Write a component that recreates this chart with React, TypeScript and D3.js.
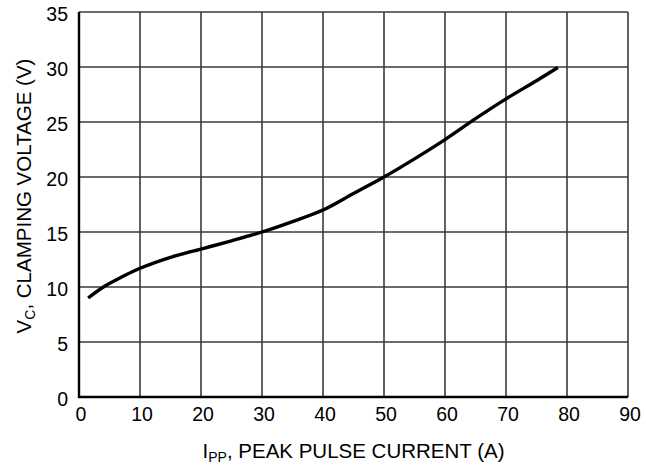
import React, { useRef, useEffect } from "react";
import * as d3 from "d3";

// peak pulse current (A) vs clamping voltage (V)
const current = [1.5, 4, 7, 10, 15, 20, 25, 30, 35, 40, 45, 50, 55, 60, 65, 70, 75, 78.5];
const voltage = [9.0, 10.0, 10.9, 11.7, 12.7, 13.45, 14.2, 15.0, 15.95, 17.0, 18.5, 20.0, 21.65, 23.4, 25.3, 27.1, 28.75, 29.95];

const xTicks = [0, 10, 20, 30, 40, 50, 60, 70, 80, 90];
const yTicks = [0, 5, 10, 15, 20, 25, 30, 35];

const width = 646;
const height = 465;
const margin = { top: 12, right: 18, bottom: 68, left: 79 };
const font = "'Liberation Sans', Arial, sans-serif";

const App: React.FC = () => {
  const svgRef = useRef<SVGSVGElement | null>(null);

  useEffect(() => {
    if (!svgRef.current) return;
    const svg = d3.select(svgRef.current);
    svg.selectAll("*").remove();

    const x = d3.scaleLinear().domain([0, 90]).range([margin.left, width - margin.right]);
    const y = d3.scaleLinear().domain([0, 35]).range([height - margin.bottom, margin.top]);

    const grid = svg.append("g").attr("stroke", "#3a3a3a").attr("stroke-width", 1.6);
    grid
      .selectAll("line.v")
      .data(xTicks.slice(1))
      .join("line")
      .attr("class", "v")
      .attr("x1", (d) => x(d))
      .attr("x2", (d) => x(d))
      .attr("y1", y(0))
      .attr("y2", y(35));
    grid
      .selectAll("line.h")
      .data(yTicks.slice(1))
      .join("line")
      .attr("class", "h")
      .attr("x1", x(0))
      .attr("x2", x(90))
      .attr("y1", (d) => y(d))
      .attr("y2", (d) => y(d));

    // heavier axis lines on left and bottom
    svg
      .append("path")
      .attr("d", `M${x(0)},${y(35)}V${y(0)}H${x(90)}`)
      .attr("fill", "none")
      .attr("stroke", "#000")
      .attr("stroke-width", 2.4);

    const pts = current.map((c, i) => [c, voltage[i]] as [number, number]);
    const line = d3
      .line<[number, number]>()
      .x((d) => x(d[0]))
      .y((d) => y(d[1]))
      .curve(d3.curveCatmullRom.alpha(0.5));

    svg
      .append("path")
      .datum(pts)
      .attr("fill", "none")
      .attr("stroke", "#000")
      .attr("stroke-width", 3.4)
      .attr("d", line);

    svg
      .append("g")
      .selectAll("text")
      .data(yTicks)
      .join("text")
      .attr("x", x(0) - 11)
      .attr("y", (d) => y(d) + 9)
      .attr("text-anchor", "end")
      .attr("font-family", font)
      .attr("font-size", 19.5)
      .text((d) => d);

    svg
      .append("g")
      .selectAll("text")
      .data(xTicks)
      .join("text")
      .attr("x", (d) => x(d) + 2)
      .attr("y", 421)
      .attr("text-anchor", "middle")
      .attr("font-family", font)
      .attr("font-size", 19.5)
      .text((d) => d);

    const xt = svg
      .append("text")
      .attr("x", (x(0) + x(90)) / 2)
      .attr("y", 458)
      .attr("text-anchor", "middle")
      .attr("font-family", font)
      .attr("font-size", 20.5);
    xt.append("tspan").text("I");
    xt.append("tspan").attr("font-size", 14).attr("dy", 4).text("PP");
    xt.append("tspan").attr("dy", -4).text(", PEAK PULSE CURRENT (A)");

    const yt = svg
      .append("text")
      .attr("transform", `translate(31,196) rotate(-90)`)
      .attr("text-anchor", "middle")
      .attr("font-family", font)
      .attr("font-size", 20.5);
    yt.append("tspan").text("V");
    yt.append("tspan").attr("font-size", 14).attr("dy", 4).text("C");
    yt.append("tspan").attr("dy", -4).text(", CLAMPING VOLTAGE (V)");
  }, []);

  return (
    <svg
      ref={svgRef}
      width={width}
      height={height}
      style={{ position: "absolute", left: 0, top: 0, background: "#fff" }}
    />
  );
};

export default App;
